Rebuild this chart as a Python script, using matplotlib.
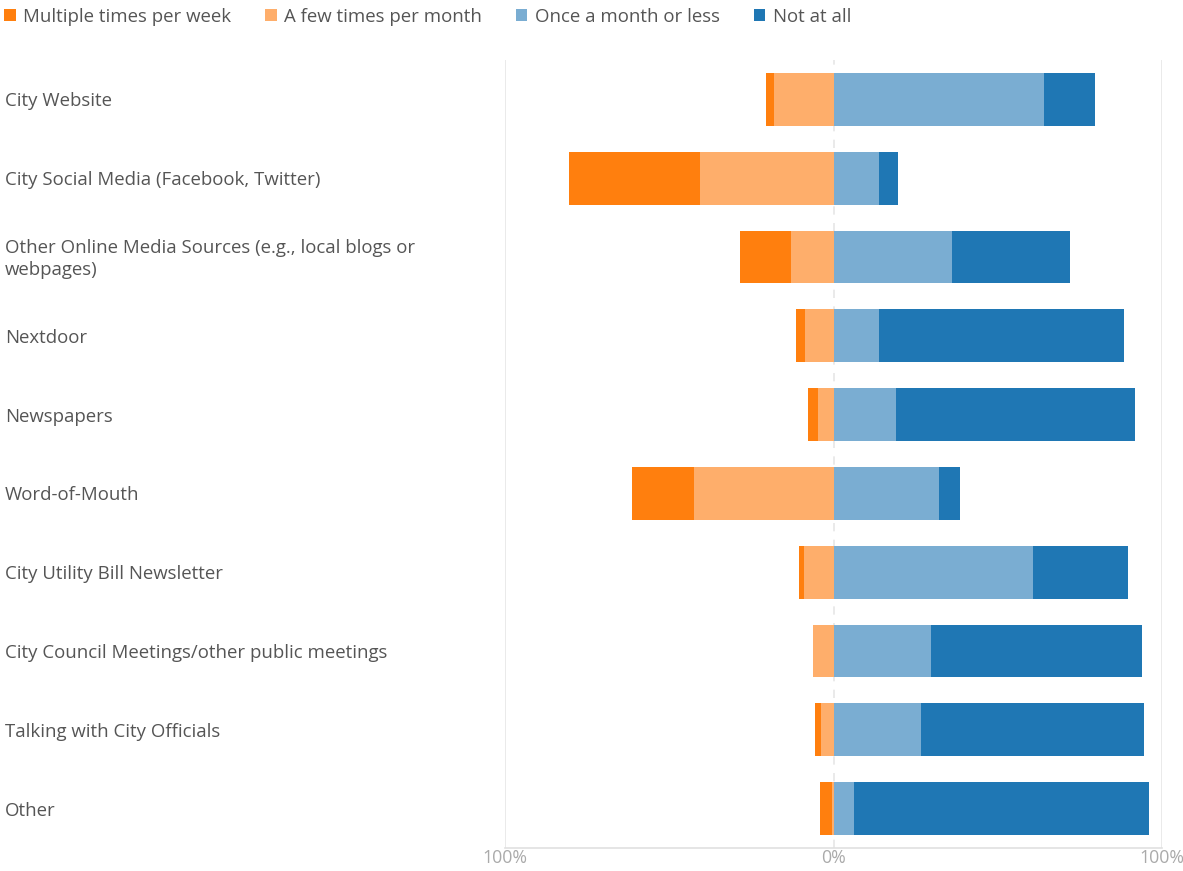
import matplotlib
matplotlib.use("Agg")
import matplotlib.pyplot as plt
import matplotlib.transforms as mtrans
from matplotlib.patches import Patch
import numpy as np

plt.rcParams["font.family"] = ["Open Sans", "DejaVu Sans"]

# ── data (percent of respondents) ─────────────────────────────────────────
categories = [
    "City Website",
    "City Social Media (Facebook, Twitter)",
    "Other Online Media Sources (e.g., local blogs or\nwebpages)",
    "Nextdoor",
    "Newspapers",
    "Word-of-Mouth",
    "City Utility Bill Newsletter",
    "City Council Meetings/other public meetings",
    "Talking with City Officials",
    "Other",
]
multiple_per_week = [2.5, 39.9, 15.5, 2.8, 3.3, 18.8, 1.4, 0.0, 1.7, 3.5]
few_per_month     = [18.0, 40.6, 13.0, 8.7, 4.6, 42.4, 9.0, 6.1, 3.9, 0.6]
once_month_less   = [64.0, 14.0, 36.0, 13.9, 19.0, 32.1, 60.6, 29.8, 26.5, 6.1]
not_at_all        = [15.5, 5.5, 35.9, 74.6, 72.9, 6.4, 28.9, 64.2, 67.9, 89.8]

series_names = ["Multiple times per week", "A few times per month",
                "Once a month or less", "Not at all"]
colors = ["#ff7f0e", "#feae6b", "#7aadd2", "#1f77b4"]
tick_vals = [-100, 0, 100]
tick_labels = ["100%", "0%", "100%"]

# ── figure ────────────────────────────────────────────────────────────────
fig = plt.figure(figsize=(11.83, 8.71), dpi=100)
ax = fig.add_axes([505 / 1183, 1 - 848 / 871, (1162 - 505) / 1183, (848 - 60) / 871])

y = np.arange(len(categories))
m = np.array(multiple_per_week)
f = np.array(few_per_month)
o = np.array(once_month_less)
n = np.array(not_at_all)
h = 0.67
kw = dict(height=h, linewidth=0, zorder=3)

# negative side: few closest to zero, multiple outside
ax.barh(y, -f, left=0, color=colors[1], **kw)
ax.barh(y, -m, left=-f, color=colors[0], **kw)
# positive side
ax.barh(y, o, left=0, color=colors[2], **kw)
ax.barh(y, n, left=o, color=colors[3], **kw)

ax.set_xlim(-100, 100)
ax.set_ylim(len(categories) - 0.5, -0.5)

# grid lines
ax.axvline(-100, color="#e6e6e6", lw=1.2, zorder=1)
ax.axvline(100, color="#e6e6e6", lw=1.2, zorder=1)
ax.axvline(0, color="#e6e6e6", lw=1.2, ls=(0, (5, 5)), zorder=1)

for s in ["top", "right", "left"]:
    ax.spines[s].set_visible(False)
ax.spines["bottom"].set_color("#e0e0e0")
ax.spines["bottom"].set_linewidth(1.2)

ax.set_xticks(tick_vals)
ax.set_xticklabels(tick_labels, color="#aaaaaa", fontsize=12.8)
ax.tick_params(axis="x", length=0, pad=1)
ax.set_yticks([])

# category labels at the left edge of the figure
trans = mtrans.blended_transform_factory(fig.transFigure, ax.transData)
for yi, lab in zip(y, categories):
    ax.text(5 / 1183, yi + 0.025, lab, transform=trans, ha="left", va="center",
            fontsize=13.4, color="#555555", linespacing=1.3)

# legend along the top
handles = [Patch(facecolor=c, edgecolor="none") for c in colors]
fig.legend(handles, series_names, loc="upper left", bbox_to_anchor=(-0.006, 1.004),
           ncol=4, frameon=False, fontsize=13.4, handlelength=0.62,
           handleheight=0.62, handletextpad=0.42, columnspacing=1.8,
           borderaxespad=0.2, labelcolor="#555555")

fig.savefig("out.png", dpi=100)
